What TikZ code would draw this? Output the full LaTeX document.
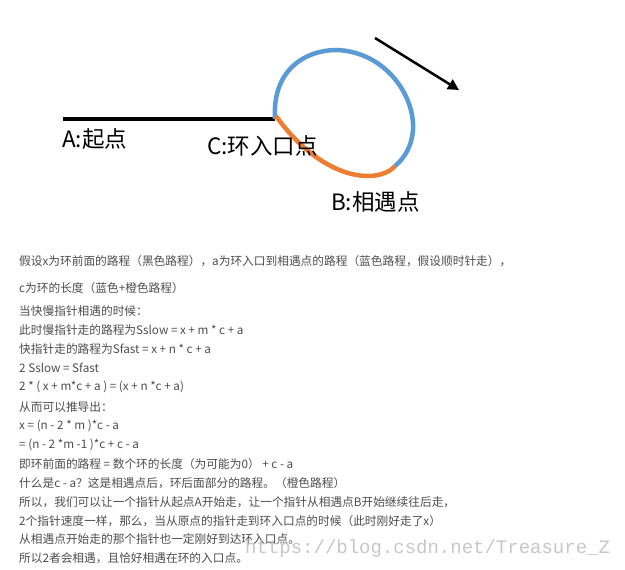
\documentclass[tikz,border=0pt]{standalone}
\usepackage{fontspec}
\setmainfont{Noto Sans CJK SC}
\newfontfamily\markfont{Liberation Mono}
\usetikzlibrary{arrows.meta}
\definecolor{loopblue}{HTML}{5B9BD5}
\definecolor{looporange}{HTML}{ED7D31}
\definecolor{textgray}{HTML}{4D4D4D}
\tikzset{
  pathline/.style={line width=4.5pt},
  ptlabel/.style={anchor=west, inner sep=0pt, font=\fontsize{22.5}{24}\selectfont},
  textline/.style={anchor=west, inner sep=0pt, text=textgray, font=\fontsize{11.7}{14}\selectfont}
}

\begin{document}
\begin{tikzpicture}[x=1pt, y=1pt]
    \useasboundingbox (0,0) rectangle (625,-570);
    % points on the path
    \coordinate (A) at (63,-119);
    \coordinate (C) at (275,-119);
    \coordinate (B) at (395,-166);
    \draw[pathline, black] (A) -- (C);
    \draw[pathline, loopblue] (C) .. controls (272,-70) and (305,-50) .. (337,-50)
        .. controls (385,-52) and (415,-95) .. (413,-130)
        .. controls (412,-145) and (405,-158) .. (B);
    \draw[pathline, looporange] (276,-116) .. controls (300,-150) and (335,-176) .. (368,-176)
        .. controls (380,-176) and (390,-172) .. (B);
    % direction
    \coordinate (dirS) at (375,-38);
    \coordinate (dirE) at (459,-90);
    \draw[line width=2.5pt, -{Triangle[length=11pt, width=11pt]}] (dirS) -- (dirE);
    \node[ptlabel] (lblA) at (62,-139) {A:起点};
    \node[ptlabel] (lblC) at (207,-146) {C:环入口点};
    \node[ptlabel] (lblB) at (331,-202) {B:相遇点};
    % explanation
    \node[textline] (t1) at (19,-261) {假设x为环前面的路程（黑色路程），a为环入口到相遇点的路程（蓝色路程，假设顺时针走），};
    \node[textline] (t2) at (19,-288) {c为环的长度（蓝色+橙色路程）};
    \node[textline] (t3) at (19,-311) {当快慢指针相遇的时候：};
    \node[textline] (t4) at (19,-330) {此时慢指针走的路程为Sslow = x + m * c + a};
    \node[textline] (t5) at (19,-349) {快指针走的路程为Sfast = x + n * c + a};
    \node[textline] (t6) at (19,-368) {2 Sslow = Sfast};
    \node[textline] (t7) at (19,-387) {2 * ( x + m*c + a ) = (x + n *c + a)};
    \node[textline] (t8) at (19,-407) {从而可以推导出：};
    \node[textline] (t9) at (19,-426) {x = (n - 2 * m )*c - a};
    \node[textline] (t10) at (19,-445) {= (n - 2 *m -1 )*c + c - a};
    \node[textline] (t11) at (19,-464) {即环前面的路程 = 数个环的长度（为可能为0） + c - a};
    \node[textline] (t12) at (19,-483) {什么是c - a？这是相遇点后，环后面部分的路程。（橙色路程）};
    \node[textline] (t13) at (19,-502) {所以，我们可以让一个指针从起点A开始走，让一个指针从相遇点B开始继续往后走，};
    \node[textline] (t14) at (19,-521) {2个指针速度一样，那么，当从原点的指针走到环入口点的时候（此时刚好走了x）};
    \node[textline] (t15) at (19,-539) {从相遇点开始走的那个指针也一定刚好到达环入口点。};
    \node[textline] (t16) at (19,-558) {所以2者会相遇，且恰好相遇在环的入口点。};
    \node[anchor=west, inner sep=0pt, text=black!22, font=\markfont\fontsize{19}{20}\selectfont] (mark) at (245,-549) {https://blog.csdn.net/Treasure\_Z};
\end{tikzpicture}
\end{document}
